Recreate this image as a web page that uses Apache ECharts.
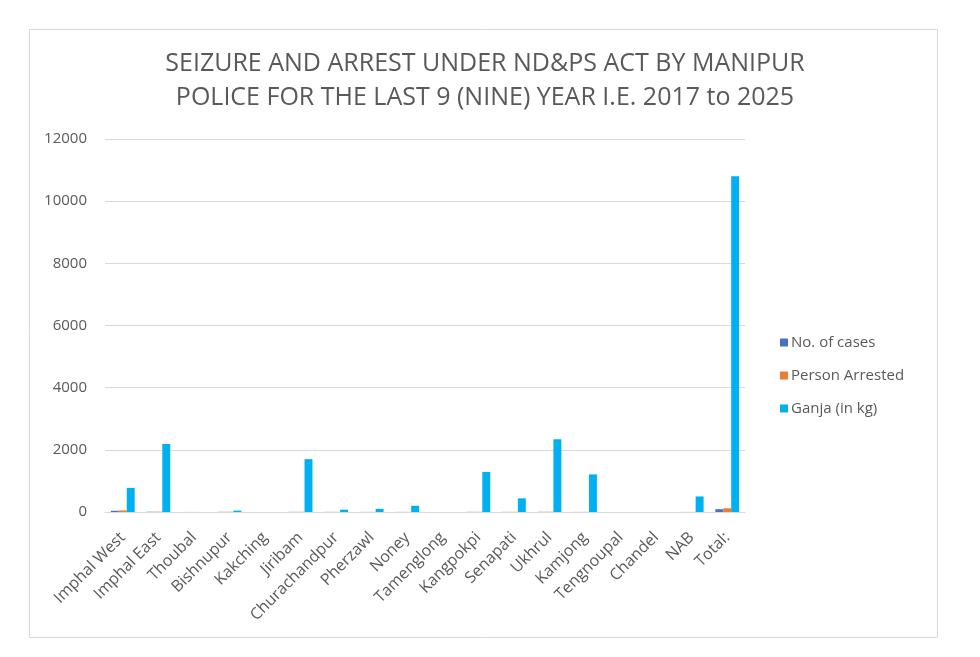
<!DOCTYPE html>
<html>
<head>
<meta charset="utf-8">
<script src="https://cdn.jsdelivr.net/npm/echarts@6/dist/echarts.min.js"></script>
<style>
html,body{margin:0;padding:0;background:#fff;}
#c{width:980px;height:657px;}
</style>
</head>
<body>
<div id="c"></div>
<script>
const categories = ["Imphal West","Imphal East","Thoubal","Bishnupur","Kakching","Jiribam","Churachandpur","Pherzawl","Noney","Tamenglong","Kangpokpi","Senapati","Ukhrul","Kamjong","Tengnoupal","Chandel","NAB","Total:"];
const cases = [40, 8, 2, 6, 1, 5, 4, 3, 3, 0, 5, 4, 6, 3, 0, 0, 2, 90];
const arrested = [50, 10, 2, 8, 1, 7, 5, 4, 4, 0, 6, 5, 8, 4, 0, 0, 3, 120];
const ganja = [775, 2190, 0, 45, 0, 1700, 75, 100, 200, 0, 1290, 440, 2340, 1210, 0, 0, 500, 10800];
const yTicks = [0, 2000, 4000, 6000, 8000, 10000, 12000];

const chart = echarts.init(document.getElementById('c'));
const txt = '#595959';
const font = "'Open Sans', 'Liberation Sans', sans-serif";
chart.setOption({
  animation: false,
  graphic: [{
    type: 'rect', left: 27, top: 27,
    shape: {width: 908, height: 608},
    style: {fill: 'none', stroke: '#d9d9d9', lineWidth: 1}
  }],
  title: {
    text: 'SEIZURE AND ARREST UNDER ND&PS ACT BY MANIPUR\nPOLICE FOR THE LAST 9 (NINE) YEAR I.E. 2017 to 2025',
    left: 480, textAlign: 'center', top: 42,
    textStyle: {color: txt, fontSize: 25, fontWeight: 'normal', fontFamily: font, lineHeight: 34}
  },
  legend: {
    orient: 'vertical', left: 775, top: 330,
    itemWidth: 8, itemHeight: 8, itemGap: 18,
    icon: 'rect',
    textStyle: {color: txt, fontSize: 15, fontFamily: font, padding: [0,0,0,-2]},
    data: ['No. of cases', 'Person Arrested', 'Ganja (in kg)']
  },
  grid: {left: 105, right: 235, top: 139, bottom: 145, containLabel: false},
  xAxis: {
    type: 'category', data: categories,
    axisLine: {lineStyle: {color: '#d9d9d9'}},
    axisTick: {show: false},
    axisLabel: {color: txt, fontSize: 16, fontFamily: font, rotate: 45, interval: 0, margin: 23}
  },
  yAxis: {
    type: 'value', min: yTicks[0], max: yTicks[yTicks.length-1], interval: 2000,
    axisLine: {show: false}, axisTick: {show: false},
    splitLine: {lineStyle: {color: '#d9d9d9'}},
    axisLabel: {color: txt, fontSize: 15, fontFamily: font, margin: 18, formatter: v => String(v)}
  },
  series: [
    {name: 'No. of cases', type: 'bar', data: cases, itemStyle: {color: '#4472c4'}, barGap: '0%', barCategoryGap: '33%'},
    {name: 'Person Arrested', type: 'bar', data: arrested, itemStyle: {color: '#ed7d31'}, barGap: '0%', barCategoryGap: '33%'},
    {name: 'Ganja (in kg)', type: 'bar', data: ganja, itemStyle: {color: '#00b0f0'}, barGap: '0%', barCategoryGap: '33%'}
  ]
});
</script>
</body>
</html>
